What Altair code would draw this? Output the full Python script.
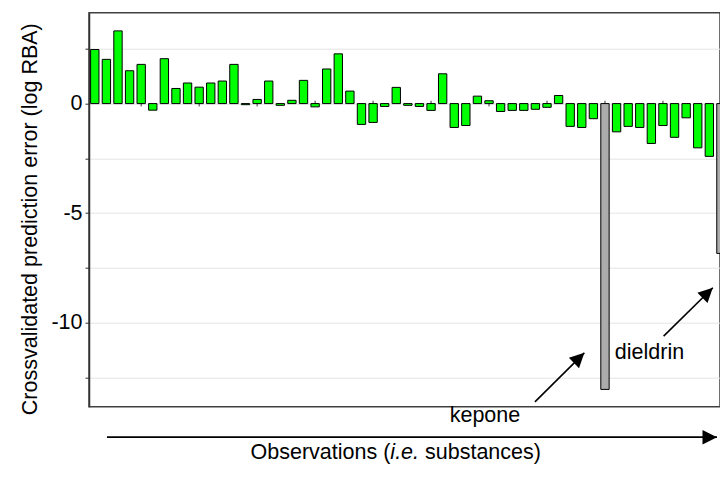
import altair as alt
import pandas as pd

# ---- data ----
errors = [2.47, 2.02, 3.32, 1.50, 1.79, -0.30, 2.05, 0.69, 0.94, 0.75,
          0.94, 1.03, 1.79, -0.05, 0.19, 1.03, -0.08, 0.15, 1.06, -0.15,
          1.58, 2.27, 0.57, -0.95, -0.86, -0.13, 0.74, -0.08, -0.13, -0.31,
          1.36, -1.09, -1.00, 0.34, 0.13, -0.36, -0.31, -0.31, -0.26, -0.17,
          0.37, -1.04, -1.09, -0.69, -13.05, -1.29, -1.04, -1.09, -1.82, -1.00,
          -1.54, -0.65, -2.02, -2.41, -6.84]
outlier_obs = [45, 55]
outlier_names = ["kepone", "dieldrin"]
zero_ticks = [5, 10, 15, 20, 25, 30, 35, 40, 45, 50, 55]
grid_values = [2.5, 0, -2.5, -5, -7.5, -10, -12.5]

# annotation anchors (data units: observation index, log RBA)
ann_text_x = [34.65, 48.84]
ann_text_y = [-14.56, -11.67]
ann_tail_x = [38.96, 50.06]
ann_tail_y = [-13.62, -10.62]
ann_tip_x = [43.22, 54.30]
ann_tip_y = [-11.38, -8.41]

xlab_parts = ["Observations (", "i.e.", "substances)"]
xlab_x = [26.49, 26.49, 29.48]
xlab_y = -16.23
xarrow_x = [2.05, 54.66]
xarrow_y = -15.23

FONT = "Liberation Sans"
FS = 21.5

df = pd.DataFrame({"obs": list(range(1, len(errors) + 1)), "err": errors})
df["kind"] = ["outlier" if o in outlier_obs else "normal" for o in df["obs"]]

xscale = alt.Scale(domain=[0.5, 54.92], nice=False, zero=False)
yscale = alt.Scale(domain=[-13.84, 4.15], nice=False, zero=False)

yaxis = alt.Axis(
    values=grid_values,
    labelExpr="datum.value % 5 == 0 ? (datum.value < 0 ? '-' + abs(datum.value) : '' + datum.value) : ''",
    grid=True, gridColor="#e4e4e4", gridWidth=1,
    tickSize=4, tickColor="#333333", tickWidth=1,
    domainColor="#333333", domainWidth=1.5,
    labelFont=FONT, labelFontSize=FS, labelColor="black", labelPadding=3,
    title="Crossvalidated prediction error (log RBA)",
    titleFont=FONT, titleFontSize=FS, titleFontWeight="normal", titleColor="black",
    titleAngle=270, titleX=-53, titleY=206, titleAlign="center", titleBaseline="alphabetic",
)

ticks = alt.Chart(pd.DataFrame({"obs": zero_ticks})).mark_rule(
    color="#333333", strokeWidth=1
).encode(
    x=alt.X("obs:Q", scale=xscale, axis=None),
    y=alt.datum(-0.13, scale=yscale),
    y2=alt.datum(0.13),
)

bars = alt.Chart(df).transform_calculate(
    x0="datum.obs - 0.36", x1="datum.obs + 0.36"
).mark_rect(stroke="black", strokeWidth=1, clip=True).encode(
    x=alt.X("x0:Q", scale=xscale, axis=None),
    x2="x1:Q",
    y=alt.Y("err:Q", scale=yscale, axis=yaxis),
    y2=alt.datum(0),
    color=alt.Color("kind:N", scale=alt.Scale(domain=["normal", "outlier"],
                                              range=["#00ff00", "#acacac"]), legend=None),
)

ann = pd.DataFrame({
    "name": outlier_names, "tx": ann_text_x, "ty": ann_text_y,
    "ax": ann_tail_x, "ay": ann_tail_y, "bx": ann_tip_x, "by": ann_tip_y,
})

arrow_lines = alt.Chart(ann).mark_rule(color="black", strokeWidth=1.6).encode(
    x=alt.X("ax:Q", scale=xscale), y=alt.Y("ay:Q", scale=yscale),
    x2="bx:Q", y2="by:Q",
)
HEAD = "M0,0 L-2,-1 L-2,1 Z"
arrow_heads = alt.Chart(ann).mark_point(
    shape=HEAD, filled=True, size=210, color="black", opacity=1, angle=315.7
).encode(x=alt.X("bx:Q", scale=xscale), y=alt.Y("by:Q", scale=yscale))

ann_text = alt.Chart(ann).mark_text(
    font=FONT, fontSize=FS, color="black", align="center", baseline="alphabetic"
).encode(x=alt.X("tx:Q", scale=xscale), y=alt.Y("ty:Q", scale=yscale), text="name:N")

xa = pd.DataFrame({"x": [xarrow_x[0]], "x2": [xarrow_x[1]], "y": [xarrow_y]})
xarrow_line = alt.Chart(xa).mark_rule(color="black", strokeWidth=1.8).encode(
    x=alt.X("x:Q", scale=xscale), x2="x2:Q", y=alt.Y("y:Q", scale=yscale))
xarrow_head = alt.Chart(xa).mark_point(
    shape=HEAD, filled=True, size=210, color="black", opacity=1
).encode(x=alt.X("x2:Q", scale=xscale), y=alt.Y("y:Q", scale=yscale))

xl = pd.DataFrame({"t": xlab_parts, "x": xlab_x, "y": [xlab_y] * 3})
xl_a = alt.Chart(xl.iloc[[0]]).mark_text(
    font=FONT, fontSize=FS, color="black", align="right", baseline="alphabetic"
).encode(x=alt.X("x:Q", scale=xscale), y=alt.Y("y:Q", scale=yscale), text="t:N")
xl_b = alt.Chart(xl.iloc[[1]]).mark_text(
    font=FONT, fontSize=FS, color="black", align="left", baseline="alphabetic", fontStyle="italic"
).encode(x=alt.X("x:Q", scale=xscale), y=alt.Y("y:Q", scale=yscale), text="t:N")
xl_c = alt.Chart(xl.iloc[[2]]).mark_text(
    font=FONT, fontSize=FS, color="black", align="left", baseline="alphabetic"
).encode(x=alt.X("x:Q", scale=xscale), y=alt.Y("y:Q", scale=yscale), text="t:N")

chart = alt.layer(
    ticks, bars, arrow_lines, arrow_heads, ann_text,
    xarrow_line, xarrow_head, xl_a, xl_b, xl_c,
).properties(
    width=631, height=394,
    autosize=alt.AutoSizeParams(type="none"),
    padding={"left": 81, "top": 4.7, "right": 0, "bottom": 57.3},
    background="white",
).configure_view(stroke="#404040", strokeWidth=1.5)

chart.save("out.html", embed_options={"renderer": "svg", "actions": False})
